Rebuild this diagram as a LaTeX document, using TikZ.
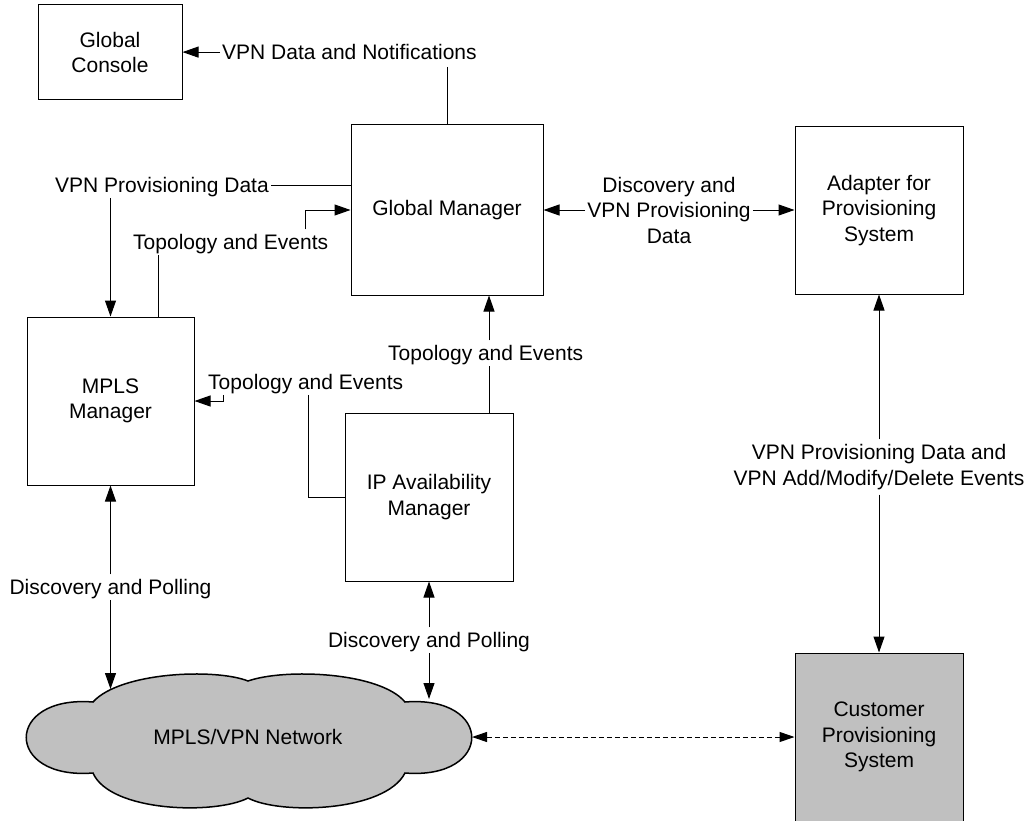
\documentclass[tikz,border=0pt]{standalone}
\usepackage{fontspec}
\setmainfont{Liberation Sans}
\usetikzlibrary{arrows.meta,calc}
\definecolor{cloudgray}{RGB}{192,192,192}
\begin{document}
\begin{tikzpicture}[x=1pt,y=-1pt,
  every node/.style={font=\fontsize{21}{25.5}\selectfont},
  box/.style={draw=black,line width=1pt,rectangle,align=center,inner sep=0pt},
  lbl/.style={inner xsep=2pt,inner ysep=5pt,text height=15pt,text depth=0pt},
  mlbl/.style={inner xsep=2pt,inner ysep=5pt,align=center},
  conn/.style={line width=1pt},
  arr/.style={conn,-{Triangle[length=16pt,width=11pt]}},
  darr/.style={conn,{Triangle[length=15pt,width=10pt]}-{Triangle[length=15pt,width=10pt]}},
]
\useasboundingbox (0,0) rectangle (1035,821);

% boxes
\node[box, minimum width=144pt, minimum height=95pt] (gc) at (110,52.5) {Global\\Console};
\node[box, minimum width=192pt, minimum height=170pt] (gm) at (447,210) {Global Manager};
\node[box, minimum width=168pt, minimum height=167pt] (ad) at (879,210.5) {Adapter for\\Provisioning\\System};
\node[box, minimum width=167pt, minimum height=168pt] (mpls) at (110.5,401) {MPLS\\Manager};
\node[box, minimum width=168pt, minimum height=168pt] (ip) at (429,497) {IP Availability\\Manager};
\node[box, fill=cloudgray, minimum width=168pt, minimum height=168pt] (cps) at (879,737) {Customer\\Provisioning\\System};

% cloud
\draw[fill=cloudgray, line width=1.5pt]
  (93,702) .. controls (120,672) and (215,668) .. (248,681)
  .. controls (285,668) and (380,672) .. (405,702)
  .. controls (494,695) and (494,780) .. (405,773)
  .. controls (385,812) and (280,815) .. (248,798)
  .. controls (215,815) and (110,812) .. (93,773)
  .. controls (4,780) and (4,695) .. (93,702) -- cycle;
\node (cloud) at (248,737) {MPLS/VPN Network};
\coordinate (cF) at (110.5,689);
\coordinate (cG) at (429,699);
\coordinate (cH) at (472,737);

% labels
\node[lbl, anchor=base west] (l1) at (220,59.6) {VPN Data and Notifications};
\node[lbl, anchor=base west] (l2) at (53,192.6) {VPN Provisioning Data};
\node[lbl, anchor=base west] (l3) at (131,249.6) {Topology and Events};
\node[lbl, anchor=base west] (l4) at (206,389.6) {Topology and Events};
\node[lbl, anchor=base west] (l5) at (386,360.6) {Topology and Events};
\node[mlbl] (l6) at (669,210) {Discovery and\\VPN Provisioning\\Data};
\node[mlbl] (l7) at (879,467) {VPN Provisioning Data and\\VPN Add/Modify/Delete Events};
\node[lbl, anchor=base] (l8) at (110.5,594.6) {Discovery and Polling};
\node[lbl, anchor=base] (l9) at (429,647.6) {Discovery and Polling};

% bend coordinates
\coordinate (cA) at (305,210);
\coordinate (cB) at (158,317);
\coordinate (cC) at (223,401);
\coordinate (cD) at (308,497);
\coordinate (cE) at (489,413);
\coordinate (cT) at (447,67);

% connectors
\draw[arr] (l1.west) -- (l1.west -| gc.east);
\draw[conn] (cT) -- (gm.north);
\draw[conn] (l2.east) -- (l2.east -| gm.west);
\draw[arr] (l2.south -| mpls.north) -- (mpls.north);
\draw[conn] (l3.south -| cB) -- (cB);
\draw[arr] (l3.north -| cA) -- (cA) -- (gm.west);
\draw[arr] (l4.south -| cC) -- (cC) -- (mpls.east);
\draw[conn] (l4.south -| cD) -- (cD) -- (ip.west);
\draw[conn] (cE) -- (l5.south -| cE);
\draw[arr] (l5.north -| cE) -- (cE |- gm.south);
\draw[arr] (l6.west) -- (l6.west -| gm.east);
\draw[arr] (l6.east) -- (l6.east -| ad.west);
\draw[arr] (l7.north) -- (ad.south);
\draw[arr] (l7.south) -- (cps.north);
\draw[arr] (l8.north) -- (mpls.south);
\draw[arr] (l8.south) -- (cF);
\draw[arr] (l9.north) -- (ip.south);
\draw[arr] (l9.south) -- (cG);
\draw[darr, dash pattern=on 5pt off 3pt] (cH) -- (cps.west);
\end{tikzpicture}
\end{document}
